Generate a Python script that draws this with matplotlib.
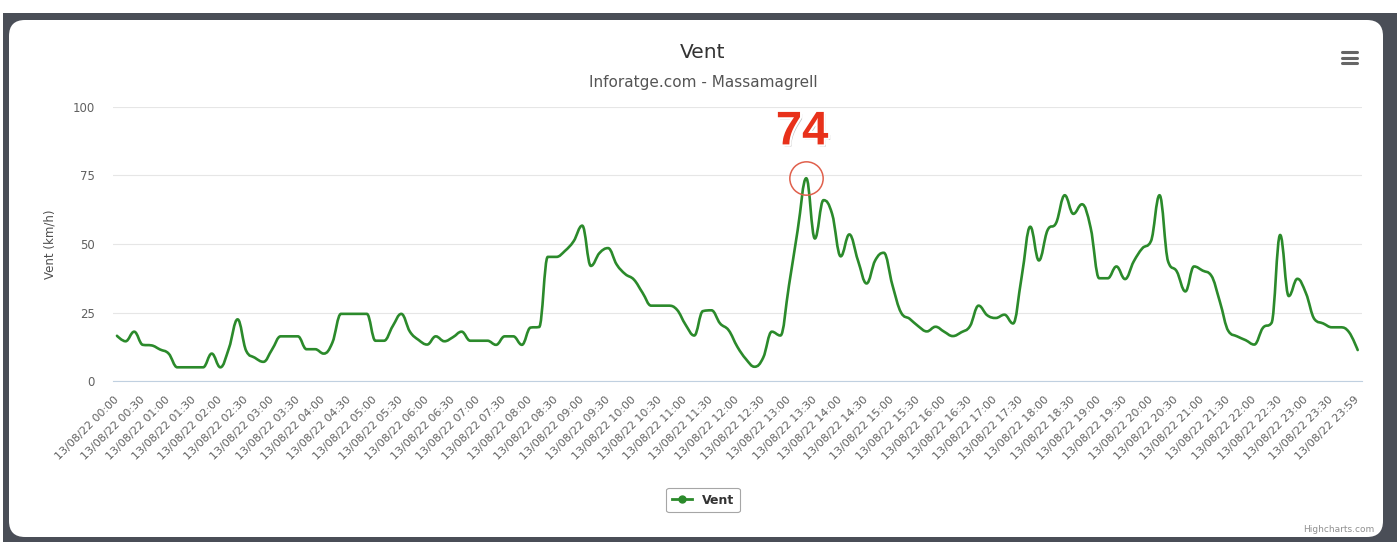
import matplotlib
matplotlib.use("Agg")
import matplotlib.pyplot as plt
from matplotlib.path import Path
from matplotlib.patches import PathPatch, FancyBboxPatch, Rectangle
from matplotlib.lines import Line2D
from matplotlib.transforms import IdentityTransform
import matplotlib.patheffects as pe

# ---------------- data ----------------
date_prefix = "13/08/22"
hours = list(range(24))
minutes = [0, 10, 20, 30, 40, 50]
last_label = "23:59"

wind = [16.5, 14.5, 18, 13.2, 13, 11.5, 10, 5, 5, 5,
        5, 10, 5, 12, 22.5, 11, 8.5, 7, 11.5, 16.3,
        16.3, 16.3, 11.6, 11.6, 10, 14, 24.5, 24.5, 24.5, 24.5,
        14.7, 14.7, 20, 24.5, 18, 15, 13.3, 16.3, 14.5, 16,
        18, 14.7, 14.7, 14.7, 13.2, 16.3, 16.3, 13.2, 19.5, 19.7,
        45.3, 45.3, 47.5, 51, 56.7, 42, 46.7, 48.5, 42.5, 39,
        37, 32.2, 27.5, 27.5, 27.5, 26, 20.5, 16.6, 25.5, 25.8,
        21, 18.5, 12.5, 8, 5.2, 8.5, 18, 16.6, 35, 55,
        74, 52, 66, 61, 45.5, 53.5, 44, 35.6, 44, 46.8,
        35, 25, 22.7, 20, 18.1, 19.8, 18, 16.4, 17.8, 20,
        27.5, 24, 23, 24.2, 21, 38, 56.3, 44, 55, 57.7,
        67.8, 61, 64.5, 56, 37.5, 37.5, 41.8, 37.2, 43.6, 48.4,
        51, 67.8, 43.6, 40, 32.7, 41.8, 40.3, 38.5, 29, 18.2,
        16.3, 14.9, 13.3, 19.4, 21.2, 53.3, 31, 37.3, 32, 22.5,
        21, 19.6, 19.6, 17.8, 11.3]

categories = [f"{date_prefix} {h:02d}:{m:02d}" for h in hours for m in minutes]
categories.append(f"{date_prefix} {last_label}")
yticks = [0, 25, 50, 75, 100]

title = "Vent"
subtitle = "Inforatge.com - Massamagrell"
ylabel = "Vent (km/h)"
series_name = "Vent"

GREEN = "#2b8a2b"
W, H = 1397, 542

fig = plt.figure(figsize=(W / 100, H / 100), dpi=100)
fig.patch.set_facecolor("white")

# dark frame and white rounded panel (pixel coordinates)
fig.patches.append(Rectangle((3, 0), W - 3, H - 13, transform=IdentityTransform(),
                             facecolor="#4a4e57", edgecolor="none", zorder=-10))
fig.patches.append(FancyBboxPatch((9, H - 537), 1383 - 9, 537 - 20,
                                  boxstyle="round,pad=0,rounding_size=16",
                                  transform=IdentityTransform(),
                                  facecolor="white", edgecolor="none", zorder=-9))

ax = fig.add_axes([113 / W, 1 - 381 / H, (1362 - 113) / W, (381 - 107) / H])
ax.set_facecolor("none")

x = list(range(len(wind)))


def hc_spline(xs, ys, smoothing=1.5):
    n = len(xs)
    left = [None] * n
    right = [None] * n
    denom = smoothing + 1
    for i in range(n):
        px, py = xs[i], ys[i]
        if i == 0 or i == n - 1:
            left[i] = right[i] = (px, py)
            continue
        lx, ly = xs[i - 1], ys[i - 1]
        nx, ny = xs[i + 1], ys[i + 1]
        lcx = (smoothing * px + lx) / denom
        lcy = (smoothing * py + ly) / denom
        rcx = (smoothing * px + nx) / denom
        rcy = (smoothing * py + ny) / denom
        corr = 0.0
        if rcx != lcx:
            corr = (rcy - lcy) * (rcx - px) / (rcx - lcx) + py - rcy
        lcy += corr
        rcy += corr
        if lcy > ly and lcy > py:
            lcy = max(ly, py)
            rcy = 2 * py - lcy
        elif lcy < ly and lcy < py:
            lcy = min(ly, py)
            rcy = 2 * py - lcy
        if rcy > ny and rcy > py:
            rcy = max(ny, py)
            lcy = 2 * py - rcy
        elif rcy < ny and rcy < py:
            rcy = min(ny, py)
            lcy = 2 * py - rcy
        left[i] = (lcx, lcy)
        right[i] = (rcx, rcy)
    verts = [(xs[0], ys[0])]
    codes = [Path.MOVETO]
    for i in range(1, n):
        verts += [right[i - 1], left[i], (xs[i], ys[i])]
        codes += [Path.CURVE4] * 3
    return Path(verts, codes)


ax.add_patch(PathPatch(hc_spline(x, wind), facecolor="none", edgecolor=GREEN,
                       lw=1.9, transform=ax.transData, zorder=3, clip_on=False,
                       capstyle="round", joinstyle="round"))

ax.set_xlim(-0.46, len(wind) - 1 + 0.5)
ax.set_ylim(0, 100)

# peak annotation
peak = max(wind)
ipk = wind.index(peak)
ax.plot([ipk], [peak], "o", ms=24, mfc="none", mec="#e0604c", mew=1.1, zorder=4, clip_on=False)
ax.annotate(f"{peak:g}", xy=(ipk, peak), xytext=(-3, 33), textcoords="offset points",
            ha="center", va="center", fontsize=34, fontweight="bold",
            family="Liberation Sans", color="#e8311a", zorder=5,
            path_effects=[pe.withSimplePatchShadow(offset=(1.5, -1.5), shadow_rgbFace="#999999", alpha=0.6),
                          pe.withStroke(linewidth=3, foreground="white")])

# axes styling
for s in ["top", "right", "left"]:
    ax.spines[s].set_visible(False)
ax.spines["bottom"].set_color("#c0d0e0")
ax.spines["bottom"].set_linewidth(0.8)
ax.set_yticks(yticks)
ax.yaxis.grid(True, color="#e6e6e6", lw=0.8)
ax.set_axisbelow(True)
ax.tick_params(axis="y", length=0, pad=13, labelsize=8.5, labelcolor="#606060")

tick_idx = list(range(0, len(categories), 3))
ax.set_xticks(tick_idx)
ax.set_xticklabels([categories[i] for i in tick_idx], rotation=45, ha="right",
                   va="center", rotation_mode="anchor", fontsize=8, color="#606060")
ax.tick_params(axis="x", length=0, pad=12)

ax.set_ylabel(ylabel, fontsize=8.5, color="#4d4d4d")
ax.yaxis.set_label_coords((57 - 113) / (1362 - 113), 0.5)

# titles
fig.text(703 / W, 1 - 53 / H, title, ha="center", va="center", fontsize=14.5, color="#333333")
fig.text(703 / W, 1 - 83 / H, subtitle, ha="center", va="center", fontsize=11, color="#555555")

# menu icon
for yy in (52, 57.5, 63):
    fig.lines.append(Line2D([1342 / W, 1357 / W], [1 - yy / H, 1 - yy / H],
                            transform=fig.transFigure, color="#666666", lw=2.2,
                            solid_capstyle="round"))

# credit
fig.text(1374 / W, 1 - 530 / H, "Highcharts.com", ha="right", va="center",
         fontsize=6.5, color="#909090")

# legend
handle = Line2D([], [], color=GREEN, lw=2, marker="o", ms=5)
leg = fig.legend([handle], [series_name], loc="center",
                 bbox_to_anchor=(703 / W, 1 - 500 / H), frameon=True, fancybox=True,
                 edgecolor="#909090", handlelength=1.6, borderpad=0.45,
                 prop={"weight": "bold", "size": 9})
leg.get_frame().set_linewidth(0.8)
for t in leg.get_texts():
    t.set_color("#333333")

fig.savefig("out.png", dpi=100)
